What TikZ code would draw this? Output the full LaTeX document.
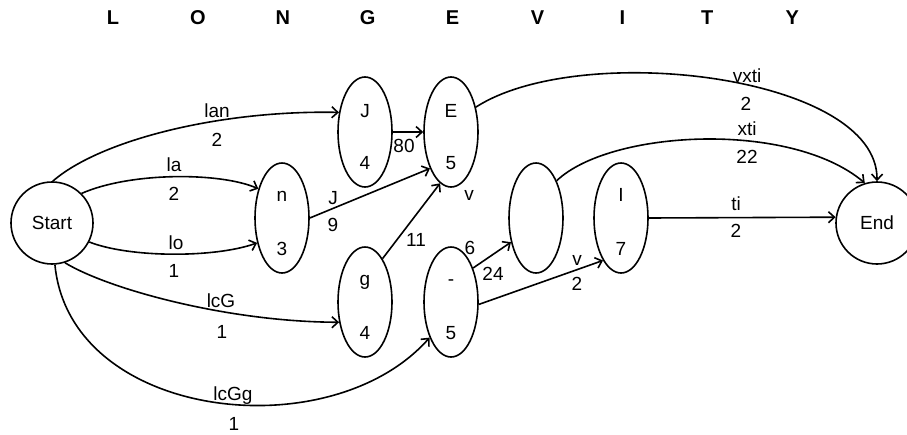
\documentclass[tikz,border=0pt]{standalone}
\usepackage{fontspec}
\setmainfont{Liberation Sans}
\usetikzlibrary{arrows.meta,shapes.geometric}
\begin{document}
\begin{tikzpicture}[x=1pt,y=-1pt,
  every node/.style={font=\fontsize{19}{22}\selectfont},
  lbl/.style={anchor=base, inner sep=0pt},
  ttl/.style={anchor=base, inner sep=0pt, font=\fontsize{20}{24}\selectfont\bfseries},
  stt/.style={ellipse, draw, line width=1.6pt, minimum width=54pt, minimum height=110pt, inner sep=0pt},
  term/.style={circle, draw, line width=1.6pt, minimum size=82pt, inner sep=0pt},
  conn/.style={draw, line width=1.6pt, -{Straight Barb[length=6pt,width=11pt]}},
]
\useasboundingbox (0,0) rectangle (907,434);
\clip (0,0) rectangle (907,434);

% title
\foreach \c [count=\i from 0] in {L,O,N,G,E,V,I,T,Y}
  \node[ttl] (t\i) at ({113+84.9*\i},24) {\c};

% terminals
\node[term] (Start) at (52,223) {Start};
\node[term] (End) at (877,223) {End};

% states
\node[stt] (J) at (365,132) {};
\node[stt] (E) at (451,132) {};
\node[stt] (n) at (282,218) {};
\node[stt] (g) at (365,302) {};
\node[stt] (M) at (451,302) {};
\node[stt] (X) at (536,218) {};
\node[stt] (I) at (621,218) {};

% state texts
\node[lbl] (Jt) at (365,117) {J};   \node[lbl] (Jb) at (365,169) {4};
\node[lbl] (Et) at (451,117) {E};   \node[lbl] (Eb) at (451,169) {5};
\node[lbl] (nt) at (282,201) {n};   \node[lbl] (nb) at (282,255) {3};
\node[lbl] (gt) at (365,285) {g};   \node[lbl] (gb) at (365,339) {4};
\node[lbl] (Mt) at (451,285) {-};   \node[lbl] (Mb) at (451,339) {5};
\node[lbl] (It) at (621,201) {I};   \node[lbl] (Ib) at (621,255) {7};

% connectors
\draw[conn] (Start.89) .. controls (100,140) and (220,110) .. (J.143);
\draw[conn] (Start.45) .. controls (130,172) and (220,172) .. (n.129);
\draw[conn] (Start.333) .. controls (130,258) and (215,258) .. (n.225);
\draw[conn] (Start.288) .. controls (110,290) and (230,322) .. (g.218);
\draw[conn] (Start.274) .. controls (70,420) and (330,450) .. (M.239);
\draw[conn] (J) -- (E);
\draw[conn] (n.east) -- (E.240);
\draw[conn] (g.68) -- (E.258);
\draw[conn] (E.45) .. controls (580,40) and (878,75) .. (End.90);
\draw[conn] (X.61) .. controls (610,130) and (790,120) .. (End.107);
\draw[conn] (I.east) -- (End.172);
\draw[conn] (M.57) -- (X.224);
\draw[conn] (M.355) -- (I.247);

% connector labels
\node[lbl] (a1) at (217,117) {lan};  \node[lbl] (a2) at (217,146) {2};
\node[lbl] (b1) at (174,171) {la};   \node[lbl] (b2) at (174,200) {2};
\node[lbl] (c1) at (176,249) {lo};   \node[lbl] (c2) at (174,277) {1};
\node[lbl] (d1) at (221,307) {lcG};  \node[lbl] (d2) at (222,338) {1};
\node[lbl] (e1) at (233,400) {lcGg}; \node[lbl] (e2) at (234,430) {1};
\node[lbl] (f1) at (404,152) {80};
\node[lbl] (h1) at (333,204) {J};    \node[lbl] (h2) at (333,231) {9};
\node[lbl] (i1) at (416,246) {11};
\node[lbl] (j1) at (469,200) {v};
\node[lbl] (k1) at (470,254) {6};    \node[lbl] (k2) at (493,280) {24};
\node[lbl] (m1) at (577,265) {v};    \node[lbl] (m2) at (577,290) {2};
\node[lbl] (p1) at (736,210) {ti};   \node[lbl] (p2) at (736,237) {2};
\node[lbl] (q1) at (747,82) {vxti};  \node[lbl] (q2) at (746,110) {2};
\node[lbl] (r1) at (747,135) {xti};  \node[lbl] (r2) at (747,163) {22};
\end{tikzpicture}
\end{document}
